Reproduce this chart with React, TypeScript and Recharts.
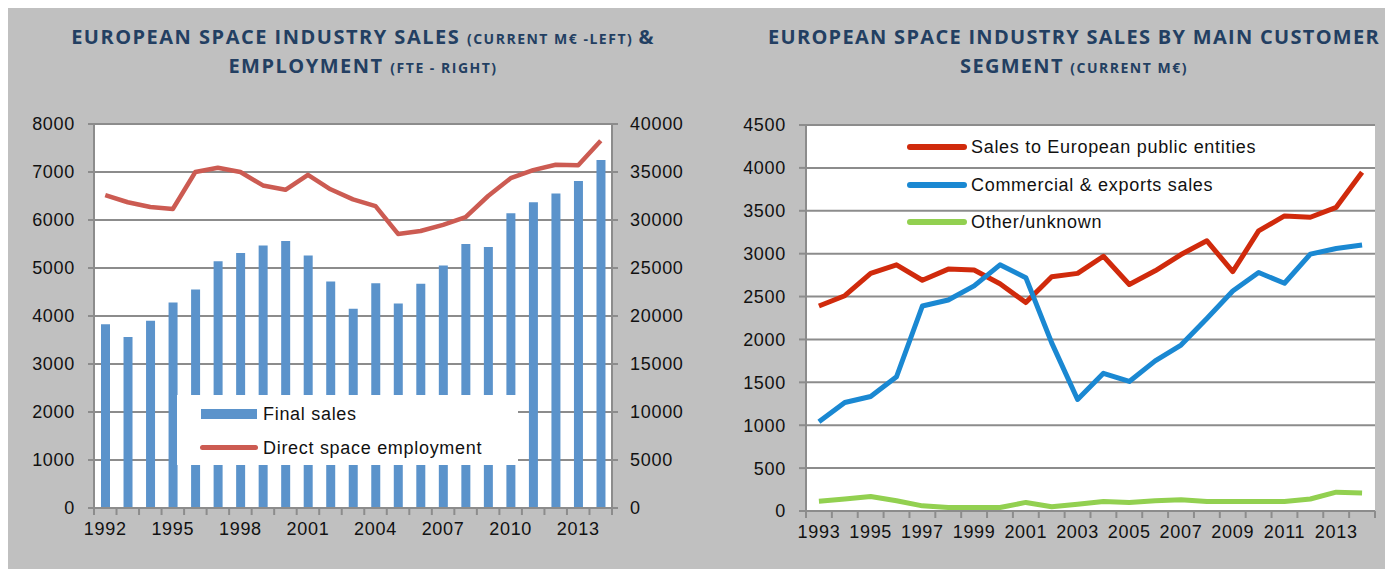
import { Bar, CartesianGrid, ComposedChart, Legend, Line, XAxis, YAxis } from "recharts";

// left panel: sales (M€) + employment (FTE)
const salesYears = ["1992", "1993", "1994", "1995", "1996", "1997", "1998", "1999", "2000", "2001", "2002", "2003", "2004", "2005", "2006", "2007", "2008", "2009", "2010", "2011", "2012", "2013", "2014"];
const finalSales = [3830, 3560, 3900, 4280, 4550, 5140, 5310, 5470, 5560, 5260, 4720, 4150, 4680, 4260, 4670, 5050, 5500, 5440, 6140, 6370, 6550, 6810, 7250];
const employment = [32600, 31850, 31350, 31150, 35000, 35450, 35000, 33600, 33150, 34700, 33200, 32150, 31450, 28550, 28850, 29500, 30300, 32500, 34350, 35200, 35750, 35700, 38250];
const salesTicks = [0, 1000, 2000, 3000, 4000, 5000, 6000, 7000, 8000];
const fteTicks = [0, 5000, 10000, 15000, 20000, 25000, 30000, 35000, 40000];

// right panel: sales by customer segment (M€)
const segmentYears = ["1993", "1994", "1995", "1996", "1997", "1998", "1999", "2000", "2001", "2002", "2003", "2004", "2005", "2006", "2007", "2008", "2009", "2010", "2011", "2012", "2013", "2014"];
const publicSales = [2390, 2510, 2770, 2870, 2690, 2820, 2810, 2650, 2430, 2730, 2770, 2970, 2640, 2800, 2990, 3150, 2790, 3265, 3440, 3425, 3540, 3950];
const commercialSales = [1040, 1265, 1335, 1565, 2390, 2460, 2625, 2870, 2720, 1960, 1300, 1605, 1510, 1750, 1935, 2245, 2565, 2780, 2655, 2995, 3060, 3100];
const otherSales = [115, 140, 170, 120, 60, 40, 40, 40, 100, 50, 80, 110, 100, 120, 130, 110, 110, 110, 110, 140, 220, 210];
const segmentTicks = [0, 500, 1000, 1500, 2000, 2500, 3000, 3500, 4000, 4500];

const salesData = salesYears.map((year, i) => ({ year, sales: finalSales[i], fte: employment[i] }));
const segmentData = segmentYears.map((year, i) => ({
  year,
  public: publicSales[i],
  commercial: commercialSales[i],
  other: otherSales[i],
}));

const GRID = "#8c8c8c";
const FONT = "'Liberation Sans', Arial, sans-serif";
const TITLE = "#233f62";

const BAR_BLUE = "#5b93cb";
const EMP_RED = "#cc5b52";
const PUB_RED = "#d02a0c";
const COM_BLUE = "#1a88d2";
const OTH_GREEN = "#92d050";

const axisText = { fill: "#111", fontSize: 18, fontFamily: FONT, letterSpacing: 0.7 };

// category axis tick: tick marks sit on band edges, labels every `every` bands
function bandTick(band: number, every: number, count: number) {
  return (props: any) => {
    const { x, y, payload, index } = props;
    const half = band / 2;
    return (
      <g>
        <line x1={x - half} x2={x - half} y1={y - 13} y2={y - 6} stroke={GRID} strokeWidth={2} />
        {index === count - 1 && (
          <line x1={x + half} x2={x + half} y1={y - 13} y2={y - 6} stroke={GRID} strokeWidth={2} />
        )}
        {index % every === 0 && (
          <text x={x} y={y} dy="0.78em" textAnchor="middle" {...axisText}>
            {payload.value}
          </text>
        )}
      </g>
    );
  };
}

function Title({ big1, small1, tail1, big2, small2, center, top, spacing }: any) {
  const bigStyle = { fontSize: 20, fontWeight: 700, letterSpacing: spacing };
  const smallStyle = { fontSize: 14, fontWeight: 700, letterSpacing: 1.5 };
  return (
    <div
      style={{
        position: "absolute",
        left: center - 400,
        width: 800,
        top,
        textAlign: "center",
        color: TITLE,
        fontFamily: "'Open Sans', sans-serif",
        lineHeight: "27px",
        whiteSpace: "nowrap",
      }}
    >
      <div>
        <span style={bigStyle}>{big1}</span>
        <span style={smallStyle}>{small1}</span>
        <span style={bigStyle}>{tail1}</span>
      </div>
      <div>
        <span style={bigStyle}>{big2}</span>
        <span style={smallStyle}>{small2}</span>
      </div>
    </div>
  );
}

function SalesLegend() {
  const text = { position: "absolute" as const, left: 86, fontSize: 18, fontFamily: FONT, letterSpacing: 0.7, color: "#111", lineHeight: "20px" };
  return (
    <div style={{ position: "relative", width: 341, height: 70, background: "#fff" }}>
      <div style={{ position: "absolute", left: 24, top: 14, width: 56, height: 10, background: BAR_BLUE }} />
      <div style={{ ...text, top: 9 }}>Final sales</div>
      <div style={{ position: "absolute", left: 23, top: 50, width: 58, height: 5, borderRadius: 3, background: EMP_RED }} />
      <div style={{ ...text, top: 43 }}>Direct space employment</div>
    </div>
  );
}

function SegmentLegend() {
  const rows = [
    { label: "Sales to European public entities", color: PUB_RED },
    { label: "Commercial & exports sales", color: COM_BLUE },
    { label: "Other/unknown", color: OTH_GREEN },
  ];
  return (
    <div style={{ position: "relative", width: 400, height: 110 }}>
      {rows.map((r, i) => (
        <div key={r.label}>
          <div style={{ position: "absolute", left: 0, top: 14 + i * 37.5, width: 60, height: 6, borderRadius: 3, background: r.color }} />
          <div style={{ position: "absolute", left: 64, top: 7 + i * 37.5, fontSize: 18, fontFamily: FONT, letterSpacing: 0.7, color: "#111", lineHeight: "20px", whiteSpace: "nowrap" }}>
            {r.label}
          </div>
        </div>
      ))}
    </div>
  );
}

export default function App() {
  return (
    <div style={{ position: "relative", top: -3, width: 1385, height: 572, background: "#c0c0c0" }}>
      <Title
        center={355}
        top={18}
        spacing={1.5}
        big1="EUROPEAN SPACE INDUSTRY SALES "
        small1="(CURRENT M€ -LEFT) "
        tail1="&"
        big2="EMPLOYMENT "
        small2="(FTE - RIGHT)"
      />
      <Title
        center={1066}
        top={18}
        spacing={1.3}
        big1="EUROPEAN SPACE INDUSTRY SALES BY MAIN CUSTOMER"
        small1=""
        tail1=""
        big2="SEGMENT "
        small2="(CURRENT M€)"
      />

      <div style={{ position: "absolute", left: 0, top: 95 }}>
        <ComposedChart width={692} height={460} data={salesData} margin={{ top: 24, right: 0, bottom: 22, left: 0 }}>
          <CartesianGrid yAxisId="left" vertical={false} stroke={GRID} strokeWidth={2} fill="#fff" fillOpacity={1} />
          <XAxis
            dataKey="year"
            interval={0}
            height={30}
            tickSize={7}
            tickMargin={6}
            tickLine={false}
            axisLine={{ stroke: GRID, strokeWidth: 2 }}
            tick={bandTick(518 / 23, 3, salesYears.length)}
          />
          <YAxis
            yAxisId="left"
            domain={[0, 8000]}
            ticks={salesTicks}
            interval={0}
            width={86}
            tickSize={6}
            tickMargin={13}
            axisLine={{ stroke: GRID, strokeWidth: 2 }}
            tickLine={{ stroke: GRID, strokeWidth: 2 }}
            tick={axisText}
          />
          <YAxis
            yAxisId="right"
            orientation="right"
            domain={[0, 40000]}
            ticks={fteTicks}
            interval={0}
            width={88}
            tickSize={6}
            tickMargin={12}
            axisLine={{ stroke: GRID, strokeWidth: 2 }}
            tickLine={{ stroke: GRID, strokeWidth: 2 }}
            tick={{ ...axisText, textAnchor: "start" }}
          />
          <Bar yAxisId="left" dataKey="sales" name="Final sales" fill={BAR_BLUE} barSize={9} isAnimationActive={false} />
          <Line
            yAxisId="right"
            dataKey="fte"
            name="Direct space employment"
            stroke={EMP_RED}
            strokeWidth={4.5}
            dot={false}
            activeDot={false}
            strokeLinejoin="round"
            isAnimationActive={false}
          />
          <Legend
            layout="horizontal"
            verticalAlign="middle"
            align="center"
            content={() => <SalesLegend />}
            wrapperStyle={{ left: 169, top: 295, width: 341, height: 70 }}
          />
        </ComposedChart>
      </div>

      <div style={{ position: "absolute", left: 712, top: 95 }}>
        <ComposedChart width={670} height={460} data={segmentData} margin={{ top: 25, right: 15, bottom: 19, left: 0 }}>
          <CartesianGrid vertical={false} stroke={GRID} strokeWidth={2} fill="#fff" fillOpacity={1} />
          <XAxis
            dataKey="year"
            scale="band"
            interval={0}
            height={30}
            tickSize={7}
            tickMargin={6}
            tickLine={false}
            axisLine={{ stroke: GRID, strokeWidth: 2 }}
            tick={bandTick(569 / 22, 2, segmentYears.length)}
          />
          <YAxis
            domain={[0, 4500]}
            ticks={segmentTicks}
            interval={0}
            width={86}
            tickSize={7}
            tickMargin={13}
            axisLine={{ stroke: GRID, strokeWidth: 2 }}
            tickLine={{ stroke: GRID, strokeWidth: 2 }}
            tick={axisText}
          />
          <Line dataKey="public" name="Sales to European public entities" stroke={PUB_RED} strokeWidth={5} dot={false} activeDot={false} strokeLinejoin="round" isAnimationActive={false} />
          <Line dataKey="commercial" name="Commercial & exports sales" stroke={COM_BLUE} strokeWidth={5} dot={false} activeDot={false} strokeLinejoin="round" isAnimationActive={false} />
          <Line dataKey="other" name="Other/unknown" stroke={OTH_GREEN} strokeWidth={5} dot={false} activeDot={false} strokeLinejoin="round" isAnimationActive={false} />
          <Legend
            layout="horizontal"
            verticalAlign="middle"
            align="center"
            content={() => <SegmentLegend />}
            wrapperStyle={{ left: 187, top: 30, width: 400, height: 110 }}
          />
        </ComposedChart>
      </div>
    </div>
  );
}
